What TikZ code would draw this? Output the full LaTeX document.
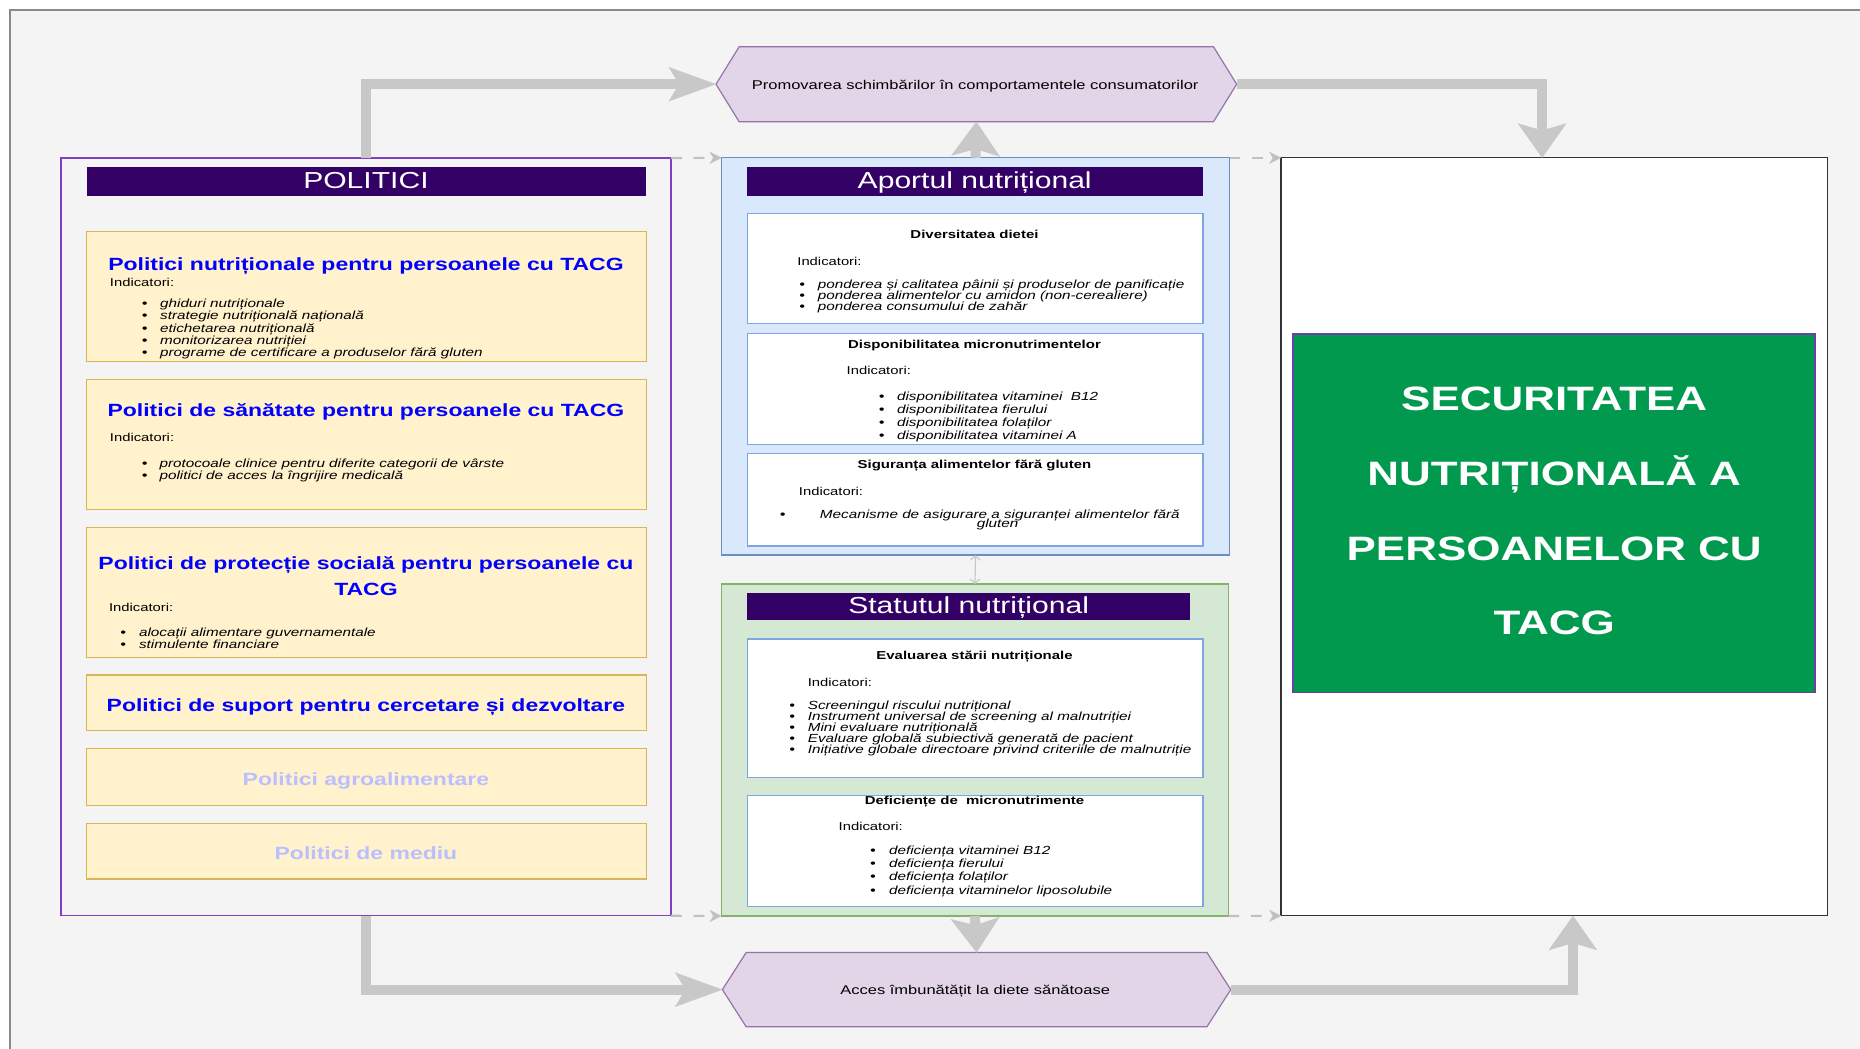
\documentclass[tikz,border=0pt]{standalone}
\usepackage{fontspec}
\setmainfont{Liberation Sans}[FakeStretch=1.3]
\usetikzlibrary{arrows.meta,fit}
\definecolor{bggray}{HTML}{F4F4F4}
\definecolor{framegray}{HTML}{8A8A8A}
\definecolor{polpurple}{HTML}{7E3FC0}
\definecolor{hdrpurple}{HTML}{330066}
\definecolor{yfill}{HTML}{FFF2CC}
\definecolor{yline}{HTML}{D6B656}
\definecolor{bfill}{HTML}{DAE8FC}
\definecolor{bline}{HTML}{6C8EBF}
\definecolor{gfill}{HTML}{D5E8D4}
\definecolor{gline}{HTML}{82B366}
\definecolor{subline}{HTML}{7EA6E0}
\definecolor{hexfill}{HTML}{E1D5E7}
\definecolor{hexline}{HTML}{9673A6}
\definecolor{arrgray}{HTML}{C8C8C8}
\definecolor{dashgray}{HTML}{C0C0C0}
\definecolor{secgreen}{HTML}{00994D}
\definecolor{secline}{HTML}{6A3FA8}
\definecolor{headblue}{HTML}{0000FF}
\definecolor{fadeblue}{HTML}{BAC0FF}
\definecolor{wline}{HTML}{333333}
\newlength\bulgap
\newcommand\myfs[2]{\fontsize{#1}{#2}\selectfont}
\newcommand\bi[1]{\hbox{\makebox[0pt][c]{\upshape\bfseries\textbullet}\hspace{\bulgap}#1}}
\newcommand\itemlist[3]{\setlength\bulgap{#1}\vtop{\baselineskip=#2\lineskiplimit=-100pt\relax#3}}
\begin{document}
\begin{tikzpicture}[x=1pt,y=-1pt,
 rbox/.style={inner sep=0pt,outer sep=0pt},
 ybox/.style={rbox,draw=yline,fill=yfill,line width=1.1pt},
 wbox/.style={rbox,draw=subline,fill=white,line width=1.1pt},
 hdrbar/.style={rbox,fill=hdrpurple},
 ctext/.style={inner sep=0pt,outer sep=0pt,anchor=base},
 ltext/.style={inner sep=0pt,outer sep=0pt,anchor=base west},
 hdrtext/.style={ctext,text=white,font=\myfs{19.5}{23}},
 polhead/.style={ctext,text=headblue,font=\myfs{14.9}{18}\bfseries},
 fadehead/.style={ctext,text=fadeblue,font=\myfs{14.9}{18}\bfseries},
 indic/.style={ltext,font=\myfs{9.6}{11}},
 subhead/.style={ctext,font=\myfs{9.7}{11}\bfseries},
 itemtext/.style={ltext,font=\myfs{9.9}{11}\itshape},
 hexshape/.style={draw=hexline,fill=hexfill,line width=1pt,line join=miter},
 hextext/.style={ctext,font=\myfs{10.7}{12}},
 sectext/.style={ctext,text=white,font=\myfs{28.5}{34}\bfseries},
 bigH/.style={draw=arrgray,line width=8.5pt,line join=miter,-{Stealth[length=40pt,width=29pt,inset=9pt,line width=0.1pt]}},
 bigV/.style={draw=arrgray,line width=8.5pt,line join=miter,-{Stealth[length=29pt,width=41pt,inset=6pt,line width=0.1pt]}},
 dsh/.style={draw=dashgray,line width=1.8pt,dash pattern=on 9pt off 10pt,-{Stealth[length=10pt,width=10pt,inset=3pt,line width=0.1pt]}},
 dbl/.style={draw=arrgray,line width=1pt,{Straight Barb[length=3.5pt,width=8pt]}-{Straight Barb[length=3.5pt,width=8pt]}}
]
\useasboundingbox (0,0) rectangle (1568,883.5);
\fill[white] (0,0) rectangle (1568,883.5);
\draw[draw=framegray,fill=bggray,line width=1.3pt] (8.4,8.4) rectangle (1620,940);

% ---------- POLITICI ----------
\node[rbox,fit={(51.5,133.2) (565.8,772)},draw=polpurple,fill=bggray,line width=1.2pt] (pol) {};
\node[hdrbar,fit={(73,141) (544.8,165)}] (polhdr) {};
\node[hdrtext] (poltitle) at (308.5,159) {POLITICI};

\node[ybox,fit={(73,195.3) (544.8,304.9)}] (p1) {};
\node[polhead] (p1h) at (308.5,228.2) {Politici nutriționale pentru persoanele cu TACG};
\node[indic] (p1i) at (92.7,241.1) {Indicatori:};
\node[itemtext] (p1l) at (122,259.1) {\itemlist{13pt}{10.4pt}{%
 \bi{ghiduri nutriționale}
 \bi{strategie nutrițională națională}
 \bi{etichetarea nutrițională}
 \bi{monitorizarea nutriției}
 \bi{programe de certificare a produselor fără gluten}}};

\node[ybox,fit={(73,319.8) (544.8,429.4)}] (p2) {};
\node[polhead] (p2h) at (308.5,350.7) {Politici de sănătate pentru persoanele cu TACG};
\node[indic] (p2i) at (92.7,371.8) {Indicatori:};
\node[itemtext] (p2l) at (122,394) {\itemlist{12.5pt}{10.4pt}{%
 \bi{protocoale clinice pentru diferite categorii de vârste}
 \bi{politici de acces la îngrijire medicală}}};

\node[ybox,fit={(73,444.4) (544.8,554)}] (p3) {};
\node[polhead] (p3h1) at (308.5,480) {Politici de protecție socială pentru persoanele cu};
\node[polhead] (p3h2) at (308.5,502.4) {TACG};
\node[indic] (p3i) at (92,515.6) {Indicatori:};
\node[itemtext] (p3l) at (104,536.4) {\itemlist{13.2pt}{10.4pt}{%
 \bi{alocații alimentare guvernamentale}
 \bi{stimulente financiare}}};

\node[ybox,fit={(73,569) (544.8,616)}] (p4) {};
\node[polhead] (p4h) at (308.5,599.4) {Politici de suport pentru cercetare și dezvoltare};
\node[ybox,fit={(73,631) (544.8,679)}] (p5) {};
\node[fadehead] (p5h) at (308.5,661.8) {Politici agroalimentare};
\node[ybox,fit={(73,694) (544.8,741)}] (p6) {};
\node[fadehead] (p6h) at (308.5,724.2) {Politici de mediu};

% ---------- APORTUL ----------
\node[rbox,fit={(608.3,133) (1036.5,467.9)},draw=bline,fill=bfill,line width=1pt] (aport) {};
\node[hdrbar,fit={(630,141) (1014,165)}] (aporth) {};
\node[hdrtext] (aportt) at (821.7,158.8) {Aportul nutrițional};

\node[wbox,fit={(630,180) (1014,273)}] (a1) {};
\node[subhead] (a1h) at (821.5,200.9) {Diversitatea dietei};
\node[indic] (a1i) at (672.2,223.4) {Indicatori:};
\node[itemtext] (a1l) at (676.3,243.1) {\itemlist{13.1pt}{9.27pt}{%
 \bi{ponderea și calitatea pâinii și produselor de panificație}
 \bi{ponderea alimentelor cu amidon (non-cerealiere)}
 \bi{ponderea consumului de zahăr}}};

\node[wbox,fit={(630,281) (1014,375)}] (a2) {};
\node[subhead] (a2h) at (821.5,293.6) {Disponibilitatea micronutrimentelor};
\node[indic] (a2i) at (713.8,316.1) {Indicatori:};
\node[itemtext] (a2l) at (743.4,337.2) {\itemlist{12.8pt}{11.15pt}{%
 \bi{disponibilitatea vitaminei \ B12}
 \bi{disponibilitatea fierului}
 \bi{disponibilitatea folaților}
 \bi{disponibilitatea vitaminei A}}};

\node[wbox,fit={(630,382.2) (1014,460.3)}] (a3) {};
\node[subhead] (a3h) at (821.5,394.8) {Siguranța alimentelor fără gluten};
\node[indic] (a3i) at (673.5,417.8) {Indicatori:};
\node[ctext,font=\myfs{9.9}{11}\bfseries] (a3b) at (660,437.2) {\textbullet};
\node[ctext,font=\myfs{9.9}{11}\itshape] (a3l1) at (842.9,437.2) {Mecanisme de asigurare a siguranței alimentelor fără};
\node[ctext,font=\myfs{9.9}{11}\itshape] (a3l2) at (841,444.6) {gluten};

% ---------- STATUTUL ----------
\node[rbox,fit={(608.3,492.3) (1035.5,772.2)},draw=gline,fill=gfill,line width=1pt] (stat) {};
\node[hdrbar,fit={(630,499.6) (1003.4,523)}] (stath) {};
\node[hdrtext] (statt) at (816.6,517) {Statutul nutrițional};

\node[wbox,fit={(630,538.7) (1014,655.3)}] (s1) {};
\node[subhead] (s1h) at (821.5,556.3) {Evaluarea stării nutriționale};
\node[indic] (s1i) at (681,578.9) {Indicatori:};
\node[itemtext] (s1l) at (668,598) {\itemlist{13pt}{9.34pt}{%
 \bi{Screeningul riscului nutrițional}
 \bi{Instrument universal de screening al malnutriției}
 \bi{Mini evaluare nutrițională}
 \bi{Evaluare globală subiectivă generată de pacient}
 \bi{Inițiative globale directoare privind criteriile de malnutriție}}};

\node[wbox,fit={(630,670.7) (1014,764.3)}] (s2) {};
\node[subhead] (s2h) at (821.5,677.8) {Deficiențe de \ micronutrimente};
\node[indic] (s2i) at (707,700.3) {Indicatori:};
\node[itemtext] (s2l) at (735.9,720.2) {\itemlist{13.6pt}{11.15pt}{%
 \bi{deficiența vitaminei B12}
 \bi{deficiența fierului}
 \bi{deficiența folaților}
 \bi{deficiența vitaminelor liposolubile}}};

% ---------- RIGHT ----------
\node[rbox,fit={(1080,133) (1540.5,772)},draw=wline,fill=white,line width=1.2pt] (white) {};
\node[rbox,fit={(1090,281.6) (1530,584)},draw=secline,fill=secgreen,line width=1pt] (sec) {};
\node[sectext] (sec1) at (1310.2,346.2) {SECURITATEA};
\node[sectext] (sec2) at (1310.2,409.4) {NUTRIȚIONALĂ A};
\node[sectext] (sec3) at (1310.2,472.7) {PERSOANELOR CU};
\node[sectext] (sec4) at (1310.2,535.3) {TACG};
\coordinate (wtop) at (1300,133);
\coordinate (wbot) at (1326,772);

% ---------- HEXAGONS ----------
\node[rbox,minimum width=438.9pt,minimum height=63.2pt] (promo) at (823.05,71) {};
\draw[hexshape] (promo.west) -- ([xshift=19.5pt]promo.north west) -- ([xshift=-19.5pt]promo.north east)
  -- (promo.east) -- ([xshift=-19.5pt]promo.south east) -- ([xshift=19.5pt]promo.south west) -- cycle;
\node[hextext] (promot) at (822.1,75.3) {Promovarea schimbărilor în comportamentele consumatorilor};

\node[rbox,minimum width=428.5pt,minimum height=62.5pt] (acces) at (823.25,834.25) {};
\draw[hexshape] (acces.west) -- ([xshift=20pt]acces.north west) -- ([xshift=-20pt]acces.north east)
  -- (acces.east) -- ([xshift=-20pt]acces.south east) -- ([xshift=20pt]acces.south west) -- cycle;
\node[hextext] (accest) at (822.1,838) {Acces îmbunătățit la diete sănătoase};

% ---------- CONNECTORS ----------
\draw[bigH] (pol.north) |- (promo.west);
\draw[bigH] (pol.south) |- (acces.west);
\draw[bigV] (promo.east) -| (wtop);
\draw[bigV] (acces.east) -| (wbot);
\draw[bigV] (aport.north) -- (promo.south);
\draw[bigV] (stat.south) -- (acces.north);

\draw[dsh] (pol.north east) -- (aport.north west);
\draw[dsh] (aport.north east) -- (white.north west);
\draw[dsh] (pol.south east) -- (stat.south west);
\draw[dsh] (stat.south east) -- (white.south west);
\draw[dbl] (aport.south) -- (stat.north);
\end{tikzpicture}
\end{document}
